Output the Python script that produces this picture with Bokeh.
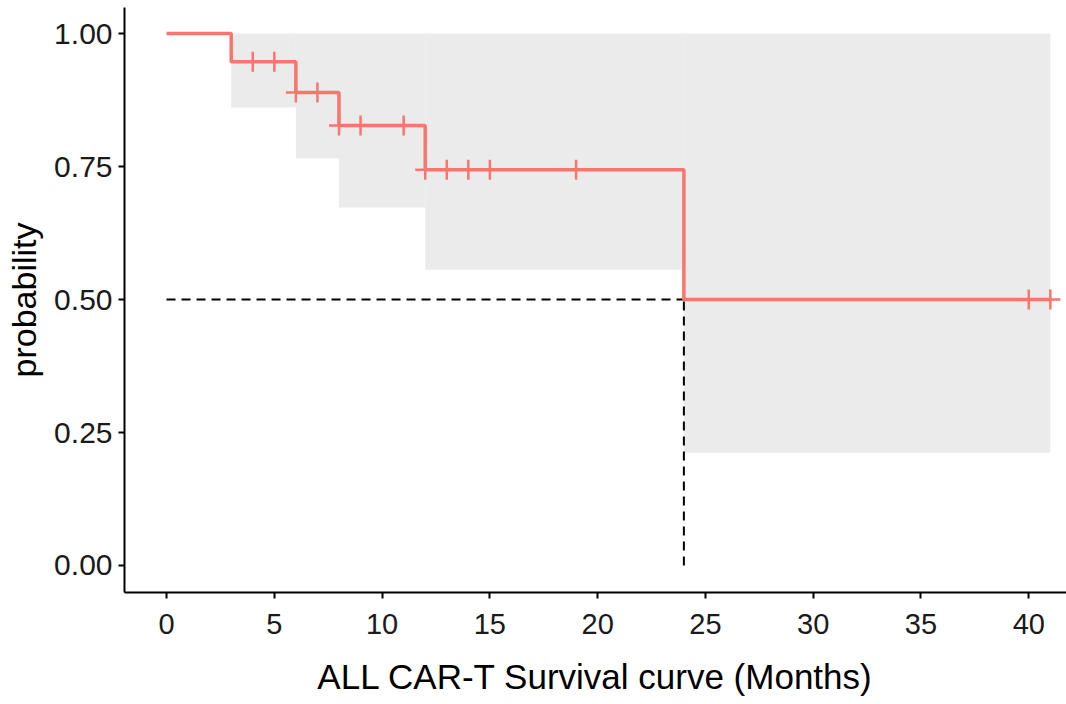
import numpy as np
from bokeh.plotting import figure
from bokeh.models import FixedTicker, PrintfTickFormatter, Range1d
from bokeh.embed import file_html
from bokeh.resources import INLINE

# Kaplan-Meier estimate (months) with pointwise confidence limits
event_times = [0, 3, 6, 8, 12, 24, 41]
survival = [1.0, 0.947, 0.889, 0.827, 0.744, 0.5, 0.5]
ci_lower = [1.0, 0.861, 0.765, 0.673, 0.556, 0.212]
ci_upper = [1.0, 1.0, 1.0, 1.0, 1.0, 1.0]

# censored follow-up times
censor_times = [4, 5, 6, 7, 8, 9, 11, 12, 13, 14, 15, 19, 40, 41]

x_ticks = [0, 5, 10, 15, 20, 25, 30, 35, 40]
y_ticks = [0.0, 0.25, 0.5, 0.75, 1.0]

RED = "#F8766D"
FONT = "Liberation Sans"

p = figure(width=1066, height=704, output_backend="svg", toolbar_location=None,
           x_range=Range1d(-1.95, 41.75), y_range=Range1d(-0.0508, 1.049),
           min_border_left=124, min_border_right=0, min_border_top=7,
           min_border_bottom=112)
p.outline_line_color = None
p.xgrid.visible = False
p.ygrid.visible = False
p.background_fill_color = "white"
p.border_fill_color = "white"

# confidence band
p.quad(left=event_times[:-1], right=event_times[1:], bottom=ci_lower, top=ci_upper,
       fill_color="#EBEBEB", line_color=None)

# median survival reference lines
t_arr = np.array(event_times)
s_arr = np.array(survival)
median_t = float(t_arr[np.argmax(s_arr <= 0.5)])
p.line([0, median_t], [0.5, 0.5], line_color="black", line_width=2, line_dash="9 6")
p.line([median_t, median_t], [0, 0.5], line_color="black", line_width=2, line_dash="9 6")

# survival curve
p.step(event_times, survival, mode="after", line_color=RED, line_width=3.5)

# censor marks at the curve level
idx = np.searchsorted(t_arr, np.array(censor_times), side="right") - 1
censor_surv = s_arr[idx]
p.scatter(censor_times, censor_surv, marker="cross", size=20, line_color=RED,
          line_width=2.5)

# axes
for ax in (p.xaxis[0], p.yaxis[0]):
    ax.axis_line_color = "black"
    ax.axis_line_width = 2
    ax.major_tick_line_color = "black"
    ax.major_tick_line_width = 2
    ax.major_tick_out = 6
    ax.major_tick_in = 0
    ax.minor_tick_line_color = None
    ax.major_label_text_font = FONT
    ax.major_label_text_color = "#1a1a1a"
    ax.axis_label_text_font = FONT
    ax.axis_label_text_font_style = "normal"
    ax.axis_label_text_color = "black"

p.xaxis.ticker = FixedTicker(ticks=x_ticks)
p.yaxis.ticker = FixedTicker(ticks=y_ticks)
p.yaxis.formatter = PrintfTickFormatter(format="%.2f")
p.xaxis.major_label_text_font_size = "29px"
p.yaxis.major_label_text_font_size = "30px"
p.xaxis.axis_label = "ALL CAR-T Survival curve (Months)"
p.yaxis.axis_label = "probability"
p.xaxis.axis_label_text_font_size = "35px"
p.yaxis.axis_label_text_font_size = "34px"
p.xaxis.major_label_standoff = 15
p.yaxis.major_label_standoff = 6
p.xaxis.axis_label_standoff = 20
p.yaxis.axis_label_standoff = 8

open("out.html", "w").write(file_html(p, INLINE))
